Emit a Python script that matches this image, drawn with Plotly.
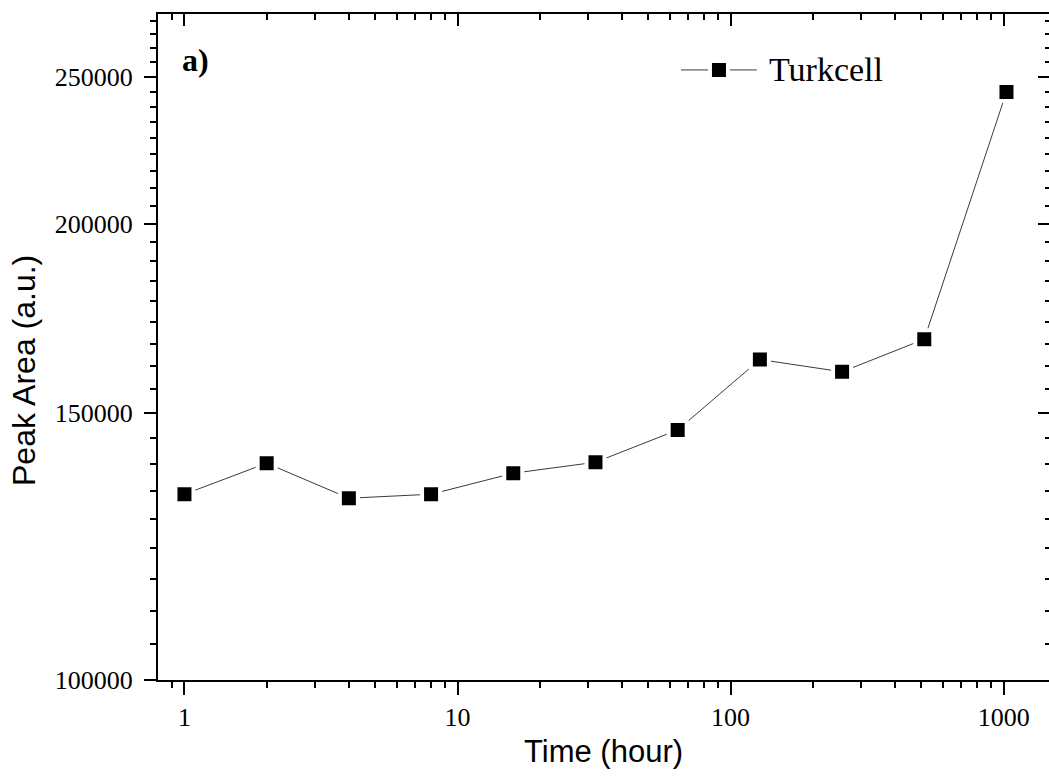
import numpy as np
import plotly.graph_objects as go

# Sampling times (hours) and measured peak areas
time_h = [1, 2, 4, 8, 16, 32, 64, 128, 256, 512, 1024]
peak_area = [132600, 139000, 131800, 132600, 136900, 139200,
             146200, 162700, 159700, 167800, 244300]
series_name = "Turkcell"

# Axis ticks
x_major = [1, 10, 100, 1000]
x_major_text = ["1", "10", "100", "1000"]
y_major = [100000, 150000, 200000, 250000]
y_major_text = ["100000", "150000", "200000", "250000"]

x_range = [np.log10(0.8), 3.166]
y_range = [np.log10(100000), np.log10(275000)]

# Minor ticks: 2..9 per decade on x; 9 linear sub-steps between y majors
x_minor = [0.9] + [m * 10 ** d for d in range(3) for m in range(2, 10)]
y_step = (y_major[1] - y_major[0]) / 9
y_minor = []
for base in y_major:
    for k in range(1, 9):
        v = base + k * y_step
        if v < 10 ** y_range[1]:
            y_minor.append(v)

SERIF = "Liberation Serif, Times New Roman, serif"
SANS = "Liberation Sans, Arial, sans-serif"
LINE_COLOR = "#3a3a3a"

fig = go.Figure()
fig.add_trace(go.Scatter(
    x=time_h, y=peak_area, name=series_name, mode="lines+markers",
    line=dict(color=LINE_COLOR, width=1),
    marker=dict(symbol="square", size=18, color="black",
                line=dict(color="white", width=4)),
    showlegend=False,
))
# Companion trace carrying the top/right tick axes
fig.add_trace(go.Scatter(
    x=time_h, y=peak_area, xaxis="x2", yaxis="y2", mode="markers",
    marker=dict(opacity=0), showlegend=False, hoverinfo="skip",
))

common_x = dict(type="log", range=x_range, tickmode="array",
                tickvals=x_major, ticktext=x_major_text,
                tickwidth=2, tickcolor="black", showgrid=False,
                zeroline=False, linecolor="black", linewidth=2)
common_y = dict(type="log", range=y_range, tickmode="array",
                tickvals=y_major, ticktext=y_major_text,
                tickwidth=2, tickcolor="black", showgrid=False,
                zeroline=False, linecolor="black", linewidth=2)

# Legend key drawn in paper space: line, boxed marker and label
key_y = 0.916
key_x0, key_x1, key_mid = 0.587, 0.672, 0.6296
sq_dx, sq_dy = 9 / 891, 9 / 666
shapes = [
    dict(type="line", xref="paper", yref="paper", x0=key_x0, x1=key_x1,
         y0=key_y, y1=key_y, line=dict(color=LINE_COLOR, width=1)),
    dict(type="rect", xref="paper", yref="paper",
         x0=key_mid - sq_dx, x1=key_mid + sq_dx,
         y0=key_y - sq_dy, y1=key_y + sq_dy,
         fillcolor="black", line=dict(color="white", width=4)),
]

fig.update_layout(
    width=1049, height=780,
    margin=dict(l=158, r=0, t=14, b=100),
    paper_bgcolor="white", plot_bgcolor="white",
    showlegend=False,
    xaxis=dict(**common_x, ticks="outside", ticklen=13, showline=True,
               tickfont=dict(family=SERIF, size=26, color="black"),
               ticklabelstandoff=0,
               minor=dict(tickmode="array", tickvals=x_minor,
                          ticks="outside", ticklen=6, tickwidth=2,
                          tickcolor="black")),
    yaxis=dict(**common_y, ticks="outside", ticklen=12, showline=True,
               tickfont=dict(family=SERIF, size=26, color="black"),
               ticklabelstandoff=6,
               minor=dict(tickmode="array", tickvals=y_minor,
                          ticks="outside", ticklen=6, tickwidth=2,
                          tickcolor="black")),
    xaxis2=dict(**common_x, overlaying="x", side="top", anchor="y2",
                ticks="inside", ticklen=12, showline=True,
                showticklabels=False,
                minor=dict(tickmode="array", tickvals=x_minor,
                           ticks="inside", ticklen=6, tickwidth=2,
                           tickcolor="black")),
    yaxis2=dict(**common_y, overlaying="y", side="right", anchor="x2",
                ticks="inside", ticklen=11, showline=False,
                showticklabels=False,
                minor=dict(tickmode="array", tickvals=y_minor,
                           ticks="inside", ticklen=4, tickwidth=2,
                           tickcolor="black")),
    shapes=shapes,
    annotations=[
        dict(text=series_name, x=0.6835, y=key_y, xref="paper", yref="paper",
             showarrow=False, xanchor="left", yanchor="middle",
             font=dict(family=SERIF, size=34, color="black")),
        dict(text="<b>a)</b>", x=0.0426, y=0.931, xref="paper", yref="paper",
             showarrow=False, xanchor="center", yanchor="middle",
             font=dict(family=SERIF, size=32, color="black")),
        dict(text="Time (hour)", x=0.5, y=-0.108, xref="paper", yref="paper",
             showarrow=False, xanchor="center", yanchor="middle",
             font=dict(family=SANS, size=31, color="black")),
        dict(text="Peak Area (a.u.)", x=-0.1504, y=0.4655, xref="paper",
             yref="paper", showarrow=False, textangle=-90,
             xanchor="center", yanchor="middle",
             font=dict(family=SANS, size=32, color="black")),
    ],
)

fig.write_html("out.html")
